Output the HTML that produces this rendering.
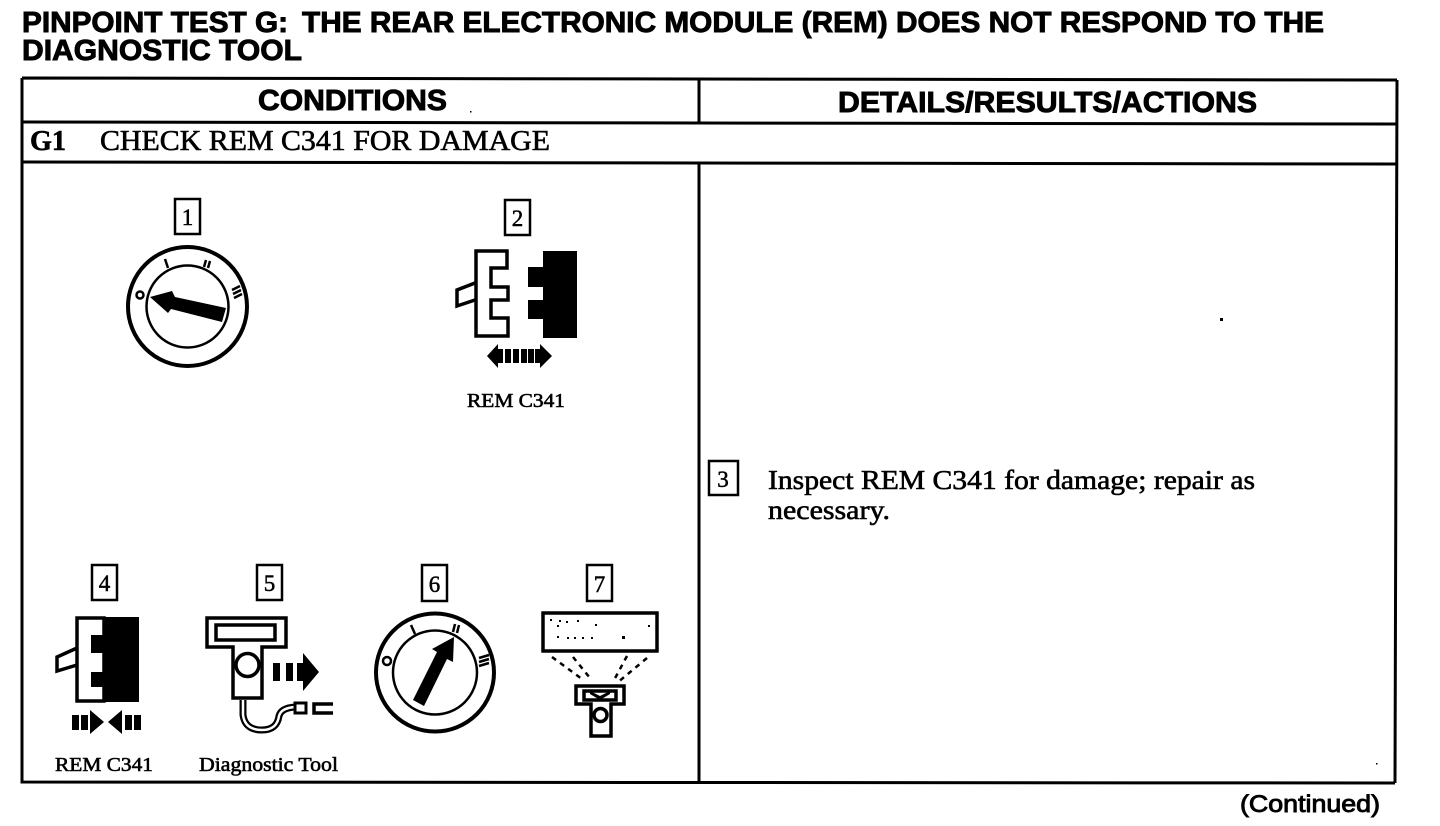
<!DOCTYPE html>
<html><head><meta charset="utf-8"><style>
html,body{margin:0;padding:0;background:#fff}
svg{display:block}
.s{font-family:"Liberation Sans",sans-serif;font-weight:bold;stroke:#000;stroke-width:.9}
.r{font-family:"Liberation Serif",serif;stroke:#000;stroke-width:.6}
.n{font-family:"Liberation Serif",serif;font-size:23px;text-anchor:middle;stroke:#000;stroke-width:.5}
.o{fill:none;stroke:#000;stroke-width:3.500}
.t{fill:none;stroke:#000;stroke-width:2.500}
</style></head><body>
<svg width="1440" height="826" viewBox="0 0 1440 826" xmlns="http://www.w3.org/2000/svg">
<rect width="1440" height="826" fill="#fff"/>
<text class="s" x="22" y="32" font-size="29" textLength="266" lengthAdjust="spacingAndGlyphs">PINPOINT TEST G:</text>
<text class="s" x="302" y="32" font-size="29" textLength="1022" lengthAdjust="spacingAndGlyphs">THE REAR ELECTRONIC MODULE (REM) DOES NOT RESPOND TO THE</text>
<text class="s" x="22" y="60" font-size="29" textLength="280" lengthAdjust="spacingAndGlyphs">DIAGNOSTIC TOOL</text>

<g fill="none" stroke="#000" stroke-width="3">
<path d="M22 78L1397 80M1397 80L1395 783M22 78L22 782L1395 783"/>
<path d="M22 122L1397 124M22 162L1397 164"/>
<path d="M699 79V122M699 163V782"/>
</g>

<text class="s" x="258" y="110" font-size="29" textLength="189" lengthAdjust="spacingAndGlyphs">CONDITIONS</text>
<text class="s" x="838" y="112" font-size="29" textLength="419" lengthAdjust="spacingAndGlyphs">DETAILS/RESULTS/ACTIONS</text>
<text class="r" x="30" y="150" font-size="28" font-weight="bold" textLength="36" lengthAdjust="spacingAndGlyphs">G1</text>
<text class="r" x="100" y="150" font-size="28" textLength="450" lengthAdjust="spacingAndGlyphs">CHECK REM C341 FOR DAMAGE</text>

<!-- number boxes -->
<g class="t">
<rect x="175" y="199" width="25" height="35"/>
<rect x="505" y="200" width="25" height="35"/>
<rect x="92" y="565" width="25" height="35"/>
<rect x="257" y="565" width="25" height="35"/>
<rect x="422" y="565" width="25" height="36"/>
<rect x="587" y="565" width="25" height="36"/>
<rect x="709" y="461" width="29" height="34"/>
</g>
<text class="n" x="187.500" y="225">1</text>
<text class="n" x="517.500" y="226">2</text>
<text class="n" x="104.500" y="591">4</text>
<text class="n" x="269.500" y="591">5</text>
<text class="n" x="434.500" y="592">6</text>
<text class="n" x="599.500" y="592">7</text>
<text class="n" x="723" y="487">3</text>

<!-- dial 1 -->
<circle cx="187.500" cy="306.500" r="59.500" fill="none" stroke="#000" stroke-width="4"/>
<circle cx="187.500" cy="306.500" r="41" fill="none" stroke="#000" stroke-width="2.500"/>
<path d="M150 297L172 291L175 297L226 308L222 322L171 309L168 313Z"/>
<g fill="none" stroke="#000" stroke-width="2.500"><path d="M165 259L168 268"/><path d="M206 260L204 267M210 261L208 268"/><path d="M232 290L240 286M233 294L241 290M234 298L242 294"/><circle cx="140" cy="295" r="3.500"/></g>

<!-- connector 2 -->
<path class="o" d="M476 251H507V268H491V287H508V300H491V318H508V336H476Z"/>
<path class="o" d="M475 283L457 290V306L475 300"/>
<path d="M543 251H577V338H543V319H528V300H543V287H528V267H543Z"/>
<path d="M487 356L498 344V349H503V363H498V368Z M552 356L540 344V349H535V363H540V368Z"/>
<path d="M505 349h6v14h-6z M513 349h6v14h-6z M521 349h6v14h-6z M528 349h6v14h-6z"/>
<text class="r" x="467" y="407" font-size="20" textLength="98" lengthAdjust="spacingAndGlyphs">REM C341</text>

<!-- connector 4 -->
<path class="o" d="M77 618H104V701H77Z"/>
<path class="o" d="M77 648L57 657V671L77 665"/>
<path d="M103 617H139V702H103V687H91V672H103V653H91V635H103Z"/>
<path d="M72 715h7v15h-7z M81 715h7v15h-7z M90 710L104 722L90 734Z M122 710L108 722L122 734Z M125 715h7v15h-7z M134 715h7v15h-7z"/>
<text class="r" x="55" y="771" font-size="20" textLength="98" lengthAdjust="spacingAndGlyphs">REM C341</text>

<!-- tool 5 -->
<path class="o" d="M207 618H286V647H262V698H233V647H207Z"/>
<rect class="o" x="216" y="625" width="59" height="15"/>
<circle class="o" cx="247.500" cy="665" r="11.500"/>
<path d="M273 663h7v18h-7z M286 663h7v18h-7z M303 653L319 672L303 691V681H297V663H303Z"/>
<path d="M243 700V715Q245 730 262 730Q277 730 279 716Q281 708 295 707" fill="none" stroke="#000" stroke-width="7"/>
<path d="M243 700V715Q245 730 262 730Q277 730 279 716Q281 708 295 707" fill="none" stroke="#fff" stroke-width="2.500"/>
<rect x="295" y="703" width="11" height="10" fill="none" stroke="#000" stroke-width="3"/>
<path d="M333 704H314V713H333" fill="none" stroke="#000" stroke-width="3.500"/>
<text class="r" x="199" y="771" font-size="20" textLength="139" lengthAdjust="spacingAndGlyphs">Diagnostic Tool</text>

<!-- dial 6 -->
<circle cx="435" cy="672.500" r="59" fill="none" stroke="#000" stroke-width="4"/>
<circle cx="435" cy="672.500" r="42" fill="none" stroke="#000" stroke-width="2.500"/>
<path d="M454 637L453 662L447 659L424 706L413 700L437 652L432 649Z"/>
<g fill="none" stroke="#000" stroke-width="2.500"><path d="M411 625L415 634"/><path d="M455 624L453 632M459 625L457 633"/><path d="M479 658L489 655M479 662L489 659M479 666L489 663"/><circle cx="387" cy="661" r="4"/></g>

<!-- screen 7 -->
<rect x="543" y="613" width="114" height="38" fill="none" stroke="#000" stroke-width="3.500"/>
<path d="M550 619h2v2h-2z M559 620h2v2h-2z M566 621h2v2h-2z M577 620h2v2h-2z M595 624h2v2h-2z M557 625h2v2h-2z M648 625h2v2h-2z M557 636h2v2h-2z M567 637h2v2h-2z M574 637h2v2h-2z M582 637h2v2h-2z M591 637h2v2h-2z M622 636h3v3h-3z"/>
<g fill="none" stroke="#000" stroke-width="2.500" stroke-dasharray="5 5"><path d="M552 657L582 679"/><path d="M573 657L590 678"/><path d="M627 656L613 682"/><path d="M647 658L617 683"/></g>
<path class="o" d="M576 686H624V704H611V736H591V704H576Z"/>
<rect class="o" x="584" y="691" width="32" height="9"/>
<path d="M590 691L600 696L610 691V694L600 700L590 694Z"/>
<circle class="o" cx="600.500" cy="715" r="6.500"/>

<text class="r" x="768" y="489" font-size="27" textLength="487" lengthAdjust="spacingAndGlyphs">Inspect REM C341 for damage; repair as</text>
<text class="r" x="768" y="519" font-size="27" textLength="122" lengthAdjust="spacingAndGlyphs">necessary.</text>
<text class="s" x="1240" y="812" font-size="24" textLength="140" lengthAdjust="spacingAndGlyphs" style="font-weight:normal">(Continued)</text>

<rect x="1220" y="318" width="3" height="3"/>
<rect x="470" y="111" width="1.500" height="1.500"/>
<rect x="1376" y="763" width="1.500" height="1.500"/>
</svg>
</body></html>
